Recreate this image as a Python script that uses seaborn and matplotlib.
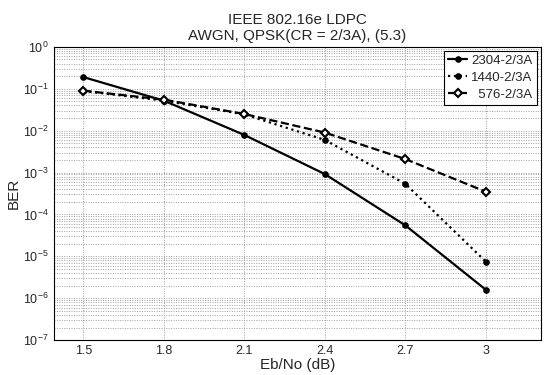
import pandas as pd
import seaborn as sns
import matplotlib.pyplot as plt
from matplotlib.ticker import NullFormatter

ebno = [1.5, 1.8, 2.1, 2.4, 2.7, 3.0]
ber_2304 = [0.19, 0.052, 0.0079, 9.2e-4, 5.5e-5, 1.6e-6]
ber_1440 = [0.089, 0.052, 0.0245, 0.006, 5.4e-4, 7.5e-6]
ber_576 = [0.090, 0.055, 0.0250, 0.009, 2.1e-3, 3.5e-4]
labels = ['2304-2/3A', '1440-2/3A', '  576-2/3A']
decades = [1e-7, 1e-6, 1e-5, 1e-4, 1e-3, 1e-2, 1e-1, 1e0]

sns.set_style("white")
plt.rcParams['font.family'] = ['Liberation Sans', 'DejaVu Sans']
plt.rcParams['mathtext.fontset'] = 'custom'
plt.rcParams['mathtext.rm'] = 'Liberation Sans'
plt.rcParams['mathtext.it'] = 'Liberation Sans'

df = pd.DataFrame({'Eb/No': ebno * 3,
                   'BER': ber_2304 + ber_1440 + ber_576,
                   'code': [labels[0]] * 6 + [labels[1]] * 6 + [labels[2]] * 6})

fig = plt.figure(figsize=(5.44, 3.75), dpi=100)
ax = fig.add_axes([0.099, 0.093, 0.895, 0.782])

styles = {
    labels[0]: dict(linestyle='-', marker='o', markersize=4, markerfacecolor='black'),
    labels[1]: dict(linestyle=':', marker='o', markersize=4, markerfacecolor='black'),
    labels[2]: dict(linestyle='--', marker='D', markersize=4, markerfacecolor='white',
                    markeredgewidth=1.5),
}
for lab in labels:
    sub = df[df['code'] == lab]
    sns.lineplot(data=sub, x='Eb/No', y='BER', ax=ax, color='black', linewidth=1.6,
                 markeredgecolor='black', label=lab, **styles[lab])

ax.set_yscale('log')
ax.set_xlim(1.39, 3.205)
ax.set_ylim(1e-7, 1)
ax.set_xticks(ebno)
ax.set_xticklabels(['1.5', '1.8', '2.1', '2.4', '2.7', '3'])
ax.set_yticks(decades)
ax.set_yticklabels([f'$10^{{{k}}}$' for k in range(-7, 1)])
# minor ticks only inside the visible range
minors = [m * d for d in decades[:-1] for m in range(2, 10)]
ax.set_yticks(minors, minor=True)
ax.yaxis.set_minor_formatter(NullFormatter())

grid_kw = dict(linestyle=(0, (1, 1.5)), color='#a0a0a0', linewidth=0.7)
ax.grid(True, which='major', axis='both', **grid_kw)
ax.grid(True, which='minor', axis='y', **grid_kw)
ax.tick_params(which='both', direction='in', labelsize=9, length=3, color='black')
ax.tick_params(which='minor', length=1.5)
for s in ax.spines.values():
    s.set_color('black')
    s.set_linewidth(0.8)

ax.set_xlabel('Eb/No (dB)', fontsize=11, labelpad=1)
ax.set_ylabel('BER', fontsize=11, labelpad=2)
ax.set_title('IEEE 802.16e LDPC\nAWGN, QPSK(CR = 2/3A), (5.3)', fontsize=11, pad=5)

leg = ax.legend(loc='upper right', fontsize=9.5, frameon=True, fancybox=False,
                edgecolor='black', framealpha=1, handlelength=1.5, borderaxespad=0.3,
                handletextpad=0.3, labelspacing=0.35, borderpad=0.3)
leg.get_frame().set_linewidth(0.8)

fig.savefig('out.png', dpi=100)
